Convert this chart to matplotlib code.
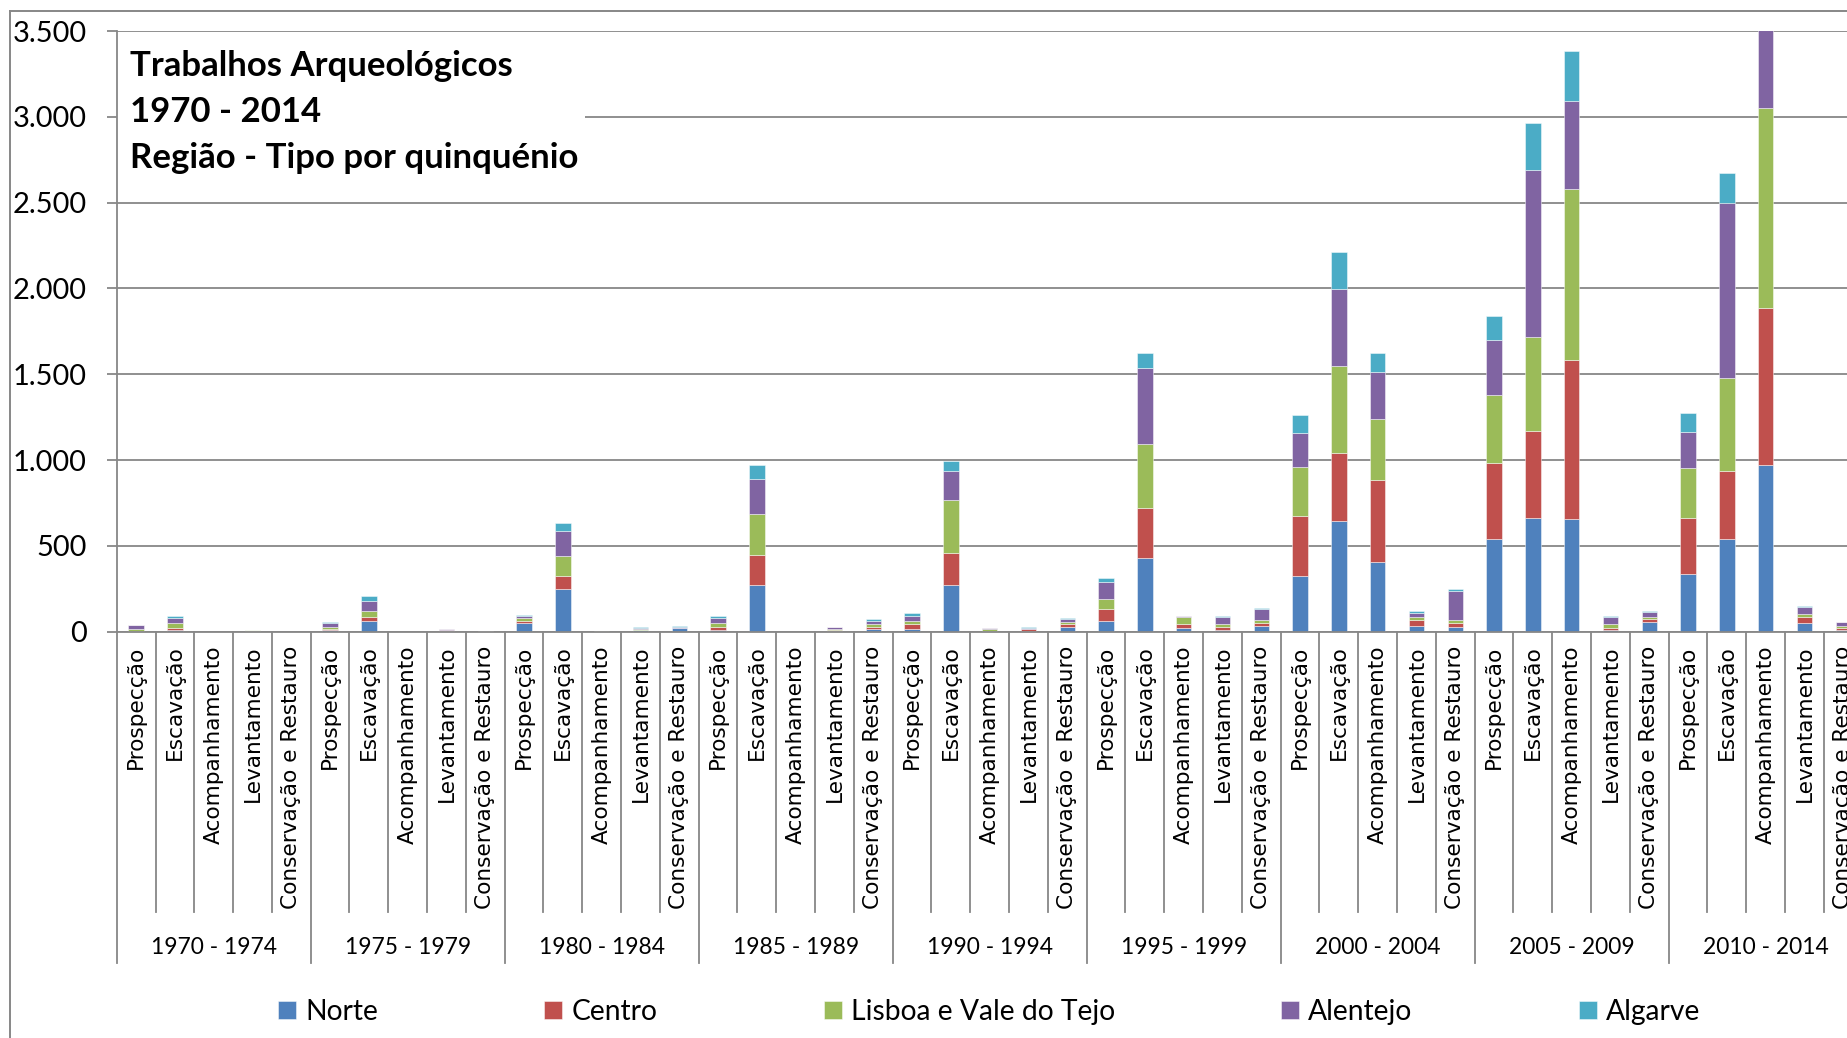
import matplotlib
matplotlib.use("Agg")
import matplotlib.pyplot as plt
import numpy as np
from matplotlib.patches import Rectangle
from matplotlib.lines import Line2D
from matplotlib.ticker import FixedLocator, FuncFormatter

# ---------------- data ----------------
periods = ["1970 - 1974", "1975 - 1979", "1980 - 1984", "1985 - 1989", "1990 - 1994",
           "1995 - 1999", "2000 - 2004", "2005 - 2009", "2010 - 2014"]
types = ["Prospecção", "Escavação", "Acompanhamento", "Levantamento", "Conservação e Restauro"]
regions = ["Norte", "Centro", "Lisboa e Vale do Tejo", "Alentejo", "Algarve"]

norte = [2, 12, 0, 1, 0,
         12, 64, 0, 3, 1,
         48, 250, 0, 8, 19,
         10, 275, 0, 3, 14,
         14, 275, 2, 5, 25,
         64, 427, 23, 8, 35,
         322, 646, 409, 31, 25,
         541, 664, 654, 10, 58,
         335, 540, 972, 53, 12]
centro = [3, 8, 0, 4, 0,
          4, 19, 0, 4, 1,
          14, 76, 0, 3, 2,
          15, 171, 0, 6, 15,
          31, 186, 2, 8, 17,
          68, 295, 21, 19, 17,
          351, 396, 475, 36, 27,
          442, 507, 931, 10, 17,
          326, 396, 912, 34, 12]
lisboa = [11, 31, 0, 4, 0,
          14, 39, 0, 2, 1,
          15, 114, 3, 3, 2,
          23, 242, 1, 6, 14,
          19, 305, 14, 5, 12,
          58, 374, 39, 16, 15,
          285, 508, 353, 18, 16,
          398, 548, 992, 24, 10,
          290, 543, 1166, 19, 12]
alentejo = [21, 29, 0, 1, 0,
            19, 56, 0, 4, 1,
            14, 147, 0, 8, 3,
            29, 204, 0, 10, 21,
            29, 171, 2, 6, 18,
            101, 440, 8, 43, 64,
            200, 447, 276, 24, 169,
            316, 970, 514, 43, 29,
            212, 1018, 700, 39, 22]
algarve = [2, 11, 0, 0, 0,
           6, 29, 0, 1, 0,
           6, 47, 0, 5, 5,
           14, 82, 0, 2, 10,
           16, 60, 1, 3, 6,
           23, 87, 0, 6, 6,
           103, 213, 109, 12, 12,
           140, 275, 290, 7, 5,
           113, 176, 300, 7, 0]

y_ticks = [0, 500, 1000, 1500, 2000, 2500, 3000, 3500]
title_lines = ["Trabalhos Arqueológicos", "1970 - 2014", "Região - Tipo por quinquénio"]

colors = ["#4F81BD", "#C0504D", "#9BBB59", "#8064A2", "#4BACC6"]
series = [norte, centro, lisboa, alentejo, algarve]

# ---------------- figure ----------------
W, H = 1847, 1038
DPI = 100
fig = plt.figure(figsize=(W / DPI, H / DPI), dpi=DPI)
fig.patch.set_facecolor("white")

SANS = "Lato"
GRAY = "#878787"

renderer = fig.canvas.get_renderer()


def fit_size(text, target_px, family, weight="normal", base=20.0):
    t = fig.text(0, 0, text, fontsize=base, family=family, weight=weight)
    bb = t.get_window_extent(renderer)
    t.remove()
    return base * target_px / bb.width


# axes geometry (pixels)
ax_left_px = 116.7
n_cat = len(types) * len(periods)
cat_w_px = 38.8
ax_right_px = ax_left_px + cat_w_px * n_cat
zero_px = 631.7
top_px = 31.0
ax = fig.add_axes([ax_left_px / W, 1 - zero_px / H,
                   (ax_right_px - ax_left_px) / W, (zero_px - top_px) / H])
ax_h_px = zero_px - top_px

x = np.arange(n_cat)
bottom = np.zeros(n_cat)
for vals, col, name in zip(series, colors, regions):
    v = np.array(vals, dtype=float)
    ax.bar(x, v, width=0.4, bottom=bottom, color=col, label=name,
           edgecolor=(1, 1, 1, 0.55), linewidth=0.6, zorder=2)
    bottom += v

ax.set_xlim(-0.5, n_cat - 0.5)
ax.set_ylim(0, 3500)

# grid & spines
ax.set_axisbelow(True)
ax.yaxis.grid(True, color=GRAY, linewidth=1.3)
ax.xaxis.grid(False)
for s in ["top", "right"]:
    ax.spines[s].set_visible(False)
for s in ["left", "bottom"]:
    ax.spines[s].set_color(GRAY)
    ax.spines[s].set_linewidth(1.3)

# y ticks
ytick_size = fit_size("3.500", 74, SANS)
ax.yaxis.set_major_locator(FixedLocator(y_ticks))
ax.yaxis.set_major_formatter(FuncFormatter(lambda v, p: f"{int(v):,}".replace(",", ".")))
ax.tick_params(axis="y", direction="out", length=7.2, width=1.3, color=GRAY,
               pad=14.5, labelsize=ytick_size, labelcolor="black")
for lab in ax.get_yticklabels():
    lab.set_family(SANS)

# x tick labels (category names)
xl_size = fit_size("Conservação e Restauro", 263, "DejaVu Sans")
ax.set_xticks(x)
ax.set_xticklabels([t for _ in periods for t in types], rotation=90,
                   fontsize=xl_size, family="DejaVu Sans", va="top", ha="center")
ax.tick_params(axis="x", length=0, pad=10)

# separator lines below the axis
xtr = ax.get_xaxis_transform()
cat_len = (911.7 - zero_px) / ax_h_px
grp_len = (963.0 - zero_px) / ax_h_px
for b in range(n_cat + 1):
    is_group = (b % len(types) == 0)
    ax.plot([b - 0.5, b - 0.5], [0, -(grp_len if is_group else cat_len)],
            transform=xtr, color=GRAY, linewidth=1.3, clip_on=False, zorder=1)

# group labels
grp_size = fit_size("1970 - 1974", 126, SANS)
grp_base = -(954.0 - zero_px) / ax_h_px
for i, p in enumerate(periods):
    cx = i * len(types) + (len(types) - 1) / 2
    ax.text(cx, grp_base, p, transform=xtr, ha="center", va="baseline",
            fontsize=grp_size, family=SANS, clip_on=False)

# title block with white background
box_right = (585 - ax_left_px) / cat_w_px - 0.5
ax.add_patch(Rectangle((-0.5, 2560), box_right + 0.5, 3430 - 2560,
                       facecolor="white", edgecolor="none", zorder=1.5))
title_size = fit_size(title_lines[0], 383, SANS, weight="bold")
for line, yb in zip(title_lines, [76, 122, 168]):
    fig.text(130 / W, 1 - yb / H, line, fontsize=title_size, family=SANS,
             weight="bold", ha="left", va="baseline", zorder=5)

# legend
leg_size = fit_size("Norte", 73, SANS)
em_px = leg_size * DPI / 72
leg = ax.legend(loc="center left", bbox_to_anchor=(278 / W, 1 - 1012 / H),
                bbox_transform=fig.transFigure, ncol=5, frameon=False,
                prop={"family": SANS, "size": leg_size},
                handlelength=18 / em_px, handleheight=18 / em_px,
                handletextpad=9 / em_px, columnspacing=166.5 / em_px,
                borderpad=0, borderaxespad=0)

# outer chart-area frame (cropped)
fig.add_artist(Line2D([10 / W, 10 / W], [0, 1 - 11 / H], color=GRAY, linewidth=1.4))
fig.add_artist(Line2D([10 / W, 1], [1 - 11 / H, 1 - 11 / H], color=GRAY, linewidth=1.4))

fig.savefig("out.png", dpi=DPI, facecolor="white")
